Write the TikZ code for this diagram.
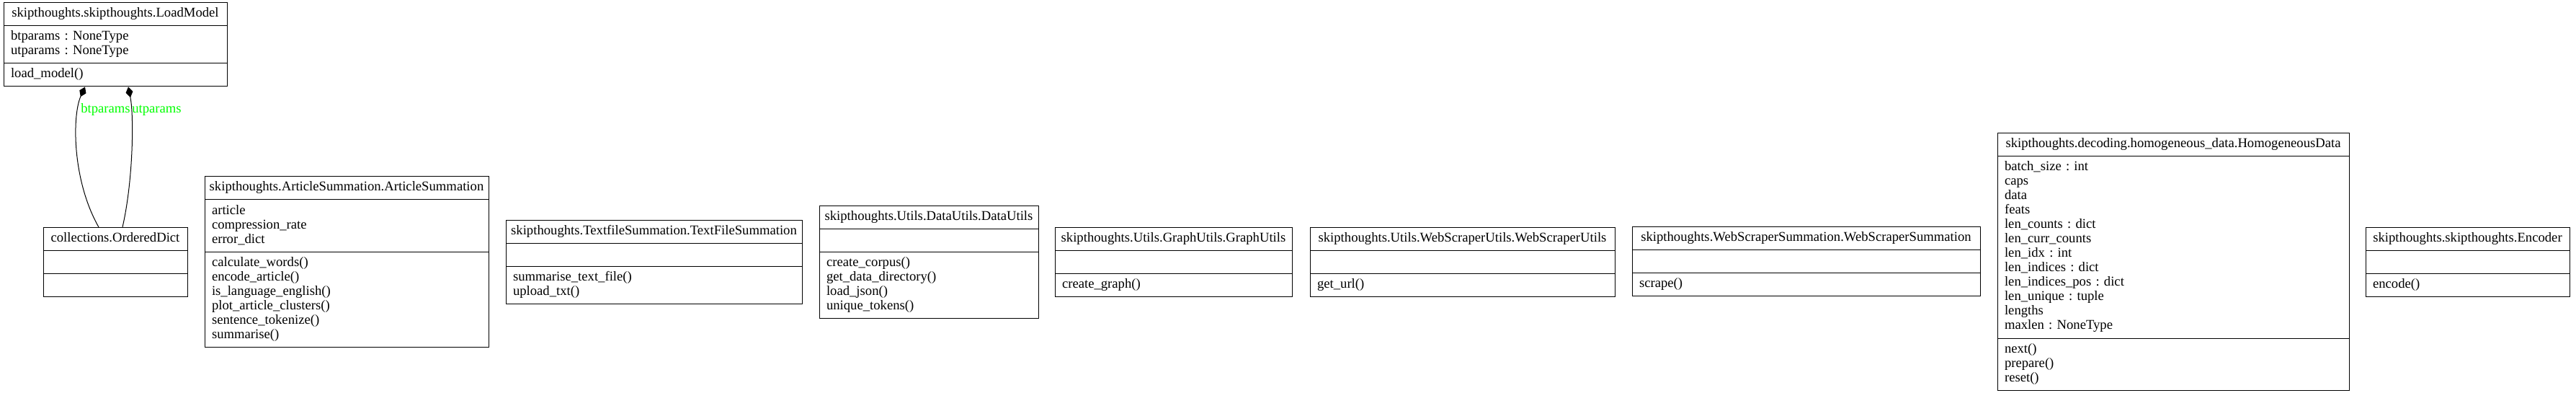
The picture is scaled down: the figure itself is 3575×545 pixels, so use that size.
\documentclass[tikz,border=0pt]{standalone}
\usepackage{fontspec}
\setmainfont{Liberation Serif}
\usetikzlibrary{shapes.multipart,arrows.meta}

\begin{document}
\begin{tikzpicture}[x=0.75pt, y=-0.75pt]
\tikzstyle{umlclass}=[rectangle split, rectangle split parts=3, draw, line width=0.75pt,
                      align=left, inner xsep=7.5pt, inner ysep=4.125pt,
                      font=\fontsize{14}{15}\selectfont\frenchspacing]
\tikzstyle{edgelabel}=[text=green, inner sep=0pt, anchor=base west,
                       font=\fontsize{14}{15}\selectfont]
\tikzstyle{composition}=[line width=0.75pt, -{Diamond[length=11.25pt,width=7.5pt]}]
\newcommand{\classtitle}[1]{\hbox to\hsize{\hss\strut#1\hss}}
\useasboundingbox (0,0) rectangle (3575,545);
\node[umlclass, text width=217.5pt] (loadmodel) at (160,62)
  {\classtitle{skipthoughts.skipthoughts.LoadModel}
   \nodepart{two}\strut btparams : NoneType\\utparams : NoneType\strut
   \nodepart{three}\strut load\_model()};
\node[umlclass, text width=135pt] (ordereddict) at (160,363.5)
  {\classtitle{collections.OrderedDict}
   \nodepart{two}\strut
   \nodepart{three}\strut};
\node[umlclass, text width=280.5pt] (articlesumm) at (481,363)
  {\classtitle{skipthoughts.ArticleSummation.ArticleSummation}
   \nodepart{two}\strut article\\compression\_rate\\error\_dict\strut
   \nodepart{three}\strut calculate\_words()\\encode\_article()\\is\_language\_english()\\
   plot\_article\_clusters()\\sentence\_tokenize()\\summarise()\strut};
\node[umlclass, text width=293.25pt] (textfilesumm) at (907.5,363.5)
  {\classtitle{skipthoughts.TextfileSummation.TextFileSummation}
   \nodepart{two}\strut
   \nodepart{three}\strut summarise\_text\_file()\\upload\_txt()\strut};
\node[umlclass, text width=213pt] (datautils) at (1289,363.5)
  {\classtitle{skipthoughts.Utils.DataUtils.DataUtils}
   \nodepart{two}\strut
   \nodepart{three}\strut create\_corpus()\\get\_data\_directory()\\load\_json()\\unique\_tokens()\strut};
\node[umlclass, text width=231.75pt] (graphutils) at (1628.5,363.5)
  {\classtitle{skipthoughts.Utils.GraphUtils.GraphUtils}
   \nodepart{two}\strut
   \nodepart{three}\strut create\_graph()};
\node[umlclass, text width=302.25pt] (webutils) at (2029.5,363)
  {\classtitle{skipthoughts.Utils.WebScraperUtils.WebScraperUtils}
   \nodepart{two}\strut
   \nodepart{three}\strut get\_url()};
\node[umlclass, text width=347.25pt] (websumm) at (2506.5,362.5)
  {\classtitle{skipthoughts.WebScraperSummation.WebScraperSummation}
   \nodepart{two}\strut
   \nodepart{three}\strut scrape()};
\node[umlclass, text width=351pt] (homogdata) at (3016,363)
  {\classtitle{skipthoughts.decoding.homogeneous\_data.HomogeneousData}
   \nodepart{two}\strut batch\_size : int\\caps\\data\\feats\\len\_counts : dict\\len\_curr\_counts\\
   len\_idx : int\\len\_indices : dict\\len\_indices\_pos : dict\\len\_unique : tuple\\lengths\\maxlen : NoneType\strut
   \nodepart{three}\strut next()\\prepare()\\reset()\strut};
\node[umlclass, text width=197.25pt] (encoder) at (3424.5,363)
  {\classtitle{skipthoughts.skipthoughts.Encoder}
   \nodepart{two}\strut
   \nodepart{three}\strut encode()};
% composition edges
\draw[composition] ([xshift=-17.25pt]ordereddict.north) .. controls (100,250) and (100,160) .. ([xshift=-31.5pt]loadmodel.south);
\draw[composition] ([xshift=7.5pt]ordereddict.north) .. controls (185,250) and (186,160) .. ([xshift=13.5pt]loadmodel.south);
\node[edgelabel] (btlabel) at (112,157) {btparams};
\node[edgelabel] (utlabel) at (183,157) {utparams};
\end{tikzpicture}
\end{document}
